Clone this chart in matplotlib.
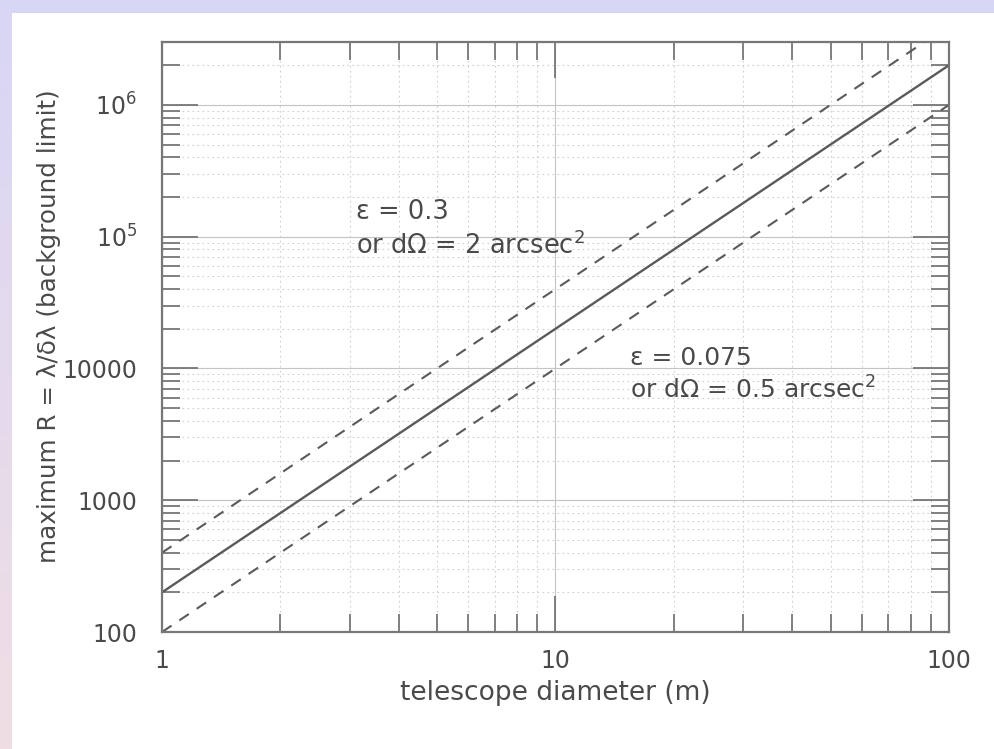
import numpy as np
import matplotlib
matplotlib.use("Agg")
import matplotlib.pyplot as plt
from matplotlib.ticker import FixedLocator, FixedFormatter, LogLocator, NullFormatter
from matplotlib.patches import Rectangle

# ---- data ----
diameter = [1, 100]
R_mid = [200, 2.0e6]
R_high = [400, 4.0e6]    # eps = 0.3 / dOmega = 2 arcsec^2
R_low = [100, 1.0e6]     # eps = 0.075 / dOmega = 0.5 arcsec^2
xticks = [1, 10, 100]
xticklabels = ["1", "10", "100"]
yticks = [100, 1000, 10000, 1e5, 1e6]
yticklabels = ["100", "1000", "10000", r"10$^5$", r"10$^6$"]
label_high = "ε = 0.3\nor dΩ = 2 arcsec$^2$"
label_low = "ε = 0.075\nor dΩ = 0.5 arcsec$^2$"

plt.rcParams['font.family'] = ['DejaVu Sans']

W, H = 995, 749
fig = plt.figure(figsize=(W / 100, H / 100), dpi=100)
fig.patch.set_facecolor('white')

# slide background: lavender top strip and gradient left strip
bg = fig.add_axes([0, 0, 1, 1], zorder=-10)
bg.set_axis_off()
grad = np.linspace(0, 1, 256)[:, None]
top_c = np.array([216, 214, 245]) / 255
bot_c = np.array([240, 222, 228]) / 255
img = top_c[None, None, :] * (1 - grad[:, :, None]) + bot_c[None, None, :] * grad[:, :, None]
bg.imshow(img, extent=[0, 12 / W, 0, 1], aspect='auto', origin='upper', transform=bg.transAxes)
bg.add_patch(Rectangle((0, 1 - 13 / H), 1, 13 / H, transform=bg.transAxes,
                       color=top_c, lw=0))
bg.set_xlim(0, 1)
bg.set_ylim(0, 1)

ax = fig.add_axes([162 / W, 1 - 632 / H, (949 - 162) / W, (632 - 42) / H])
ax.set_xscale('log')
ax.set_yscale('log')
ax.set_xlim(1, 100)
ax.set_ylim(100, 3.0e6)

line_c = '#5a5a5a'
ax.plot(diameter, R_mid, color=line_c, lw=1.7, solid_capstyle='butt')
ax.plot(diameter, R_high, color=line_c, lw=1.5, dashes=(5.5, 4.5))
ax.plot(diameter, R_low, color=line_c, lw=1.5, dashes=(5.5, 4.5))

ax.xaxis.set_major_locator(FixedLocator(xticks))
ax.xaxis.set_major_formatter(FixedFormatter(xticklabels))
ax.yaxis.set_major_locator(FixedLocator(yticks))
ax.yaxis.set_major_formatter(FixedFormatter(yticklabels))
ax.xaxis.set_minor_locator(LogLocator(base=10, subs=np.arange(2, 10)))
ax.yaxis.set_minor_locator(LogLocator(base=10, subs=np.arange(2, 10)))
ax.xaxis.set_minor_formatter(NullFormatter())
ax.yaxis.set_minor_formatter(NullFormatter())

ax.grid(which='major', color='#c4c4c4', lw=0.8, ls='-')
ax.grid(which='minor', color='#cfcfcf', lw=0.8, ls=(0, (1.5, 3)))
ax.set_axisbelow(True)

txt_c = '#4a4a4a'
tick_c = '#777777'
ax.tick_params(which='both', direction='in', top=True, right=True, color=tick_c,
               width=1.3, labelsize=17, labelcolor=txt_c)
ax.tick_params(which='major', length=26, pad=12)
ax.tick_params(which='minor', length=13)
ax.tick_params(axis='y', which='major', pad=18)
for s in ax.spines.values():
    s.set_color('#777777')
    s.set_linewidth(1.6)

ax.set_xlabel("telescope diameter (m)", fontsize=19, color=txt_c, labelpad=5)
ax.set_ylabel("maximum R = λ/δλ (background limit)", fontsize=17.7, color=txt_c)
ax.yaxis.set_label_coords(-0.128, 0.519)

ax.text(3.12, 1.13e5, label_high, fontsize=18.5, color=txt_c, va='center', ha='left',
        linespacing=1.3)
ax.text(15.5, 9.0e3, label_low, fontsize=18, color=txt_c, va='center', ha='left',
        linespacing=1.3)

fig.savefig('out.png', dpi=100)
